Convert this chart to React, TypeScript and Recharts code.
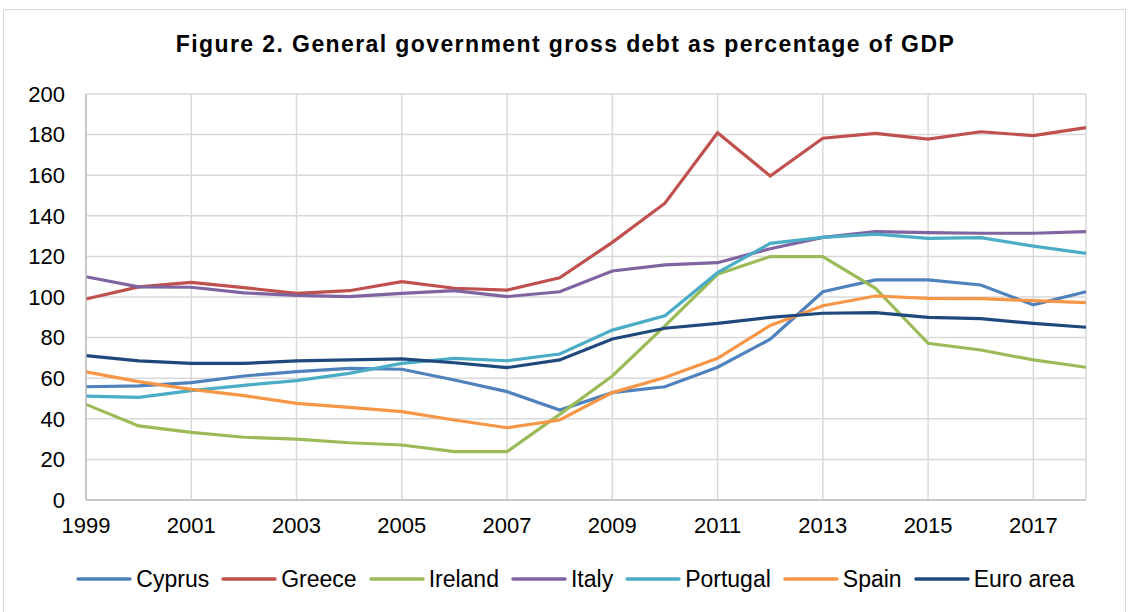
import React from 'react';
import { LineChart, Line, XAxis, YAxis, CartesianGrid } from 'recharts';

const years = [1999, 2000, 2001, 2002, 2003, 2004, 2005, 2006, 2007, 2008, 2009, 2010, 2011, 2012, 2013, 2014, 2015, 2016, 2017, 2018];
const cyprus = [55.8, 56.2, 57.8, 61.1, 63.2, 64.8, 64.4, 59.1, 53.4, 44.3, 52.9, 55.8, 65.4, 79.2, 102.6, 108.4, 108.4, 105.9, 96.1, 102.6];
const greece = [99.0, 105.0, 107.2, 104.6, 101.8, 103.1, 107.6, 104.3, 103.4, 109.5, 126.9, 146.2, 180.9, 159.6, 178.2, 180.6, 177.8, 181.4, 179.5, 183.4];
const ireland = [47.1, 36.5, 33.3, 30.9, 30.0, 28.2, 27.1, 23.8, 23.8, 42.2, 61.1, 85.8, 111.2, 119.9, 119.9, 104.3, 77.2, 73.9, 69.0, 65.4];
const italy = [110.0, 105.0, 104.8, 102.0, 100.8, 100.2, 101.8, 103.1, 100.2, 102.6, 112.8, 115.8, 116.9, 123.8, 129.4, 132.2, 131.7, 131.4, 131.4, 132.2];
const portugal = [51.2, 50.6, 53.9, 56.5, 58.8, 62.4, 67.3, 69.8, 68.6, 71.9, 83.7, 90.8, 112.0, 126.4, 129.4, 131.0, 128.9, 129.2, 125.1, 121.5];
const spain = [63.1, 58.3, 54.5, 51.4, 47.6, 45.6, 43.5, 39.4, 35.6, 39.4, 52.9, 60.3, 69.8, 86.0, 95.7, 100.5, 99.3, 99.2, 98.2, 97.2];
const euroArea = [71.1, 68.5, 67.3, 67.3, 68.5, 69.0, 69.5, 67.6, 65.2, 69.0, 79.3, 84.6, 87.0, 90.0, 92.0, 92.3, 90.0, 89.3, 87.0, 85.1];

const xTicks = [1999, 2001, 2003, 2005, 2007, 2009, 2011, 2013, 2015, 2017];
const yTicks = [0, 20, 40, 60, 80, 100, 120, 140, 160, 180, 200];

const seriesDefs = [
  { key: 'Cyprus', values: cyprus, color: '#4F81BD' },
  { key: 'Greece', values: greece, color: '#C0504D' },
  { key: 'Ireland', values: ireland, color: '#9BBB59' },
  { key: 'Italy', values: italy, color: '#8064A2' },
  { key: 'Portugal', values: portugal, color: '#4BACC6' },
  { key: 'Spain', values: spain, color: '#F79646' },
  { key: 'Euro area', values: euroArea, color: '#1F497D' },
];

const data = years.map((y, i) => {
  const row: Record<string, number> = { year: y };
  seriesDefs.forEach((s) => {
    row[s.key] = s.values[i];
  });
  return row;
});

const FONT = 'Arial, "Liberation Sans", sans-serif';

const LegendBlock = () => (
  <div
    style={{
      position: 'absolute',
      left: 0,
      top: 565,
      width: 1131,
      display: 'flex',
      justifyContent: 'center',
      alignItems: 'center',
      fontFamily: FONT,
      fontSize: 23,
      lineHeight: '28px',
      color: '#000',
      paddingLeft: 32,
      boxSizing: 'border-box',
    }}
  >
    {seriesDefs.map((s) => (
      <div key={s.key} style={{ display: 'flex', alignItems: 'center', marginRight: 12 }}>
        <svg width={56} height={10} style={{ marginRight: 4 }}>
          <line x1={2} y1={5} x2={54} y2={5} stroke={s.color} strokeWidth={3.5} strokeLinecap="round" />
        </svg>
        <span>{s.key}</span>
      </div>
    ))}
  </div>
);

export default function App() {
  return (
    <div style={{ position: 'absolute', left: 0, top: 0, width: 1131, height: 612, background: '#fff', overflow: 'hidden' }}>
      <div style={{ position: 'absolute', left: 3, top: 9, width: 1123, height: 640, border: '1px solid #D9D9D9', boxSizing: 'border-box' }} />
      <div
        style={{
          position: 'absolute',
          left: 0,
          top: 31,
          width: 1131,
          textAlign: 'center',
          fontFamily: FONT,
          fontWeight: 'bold',
          fontSize: 23,
          letterSpacing: 1.4,
          color: '#000',
        }}
      >
        Figure 2. General government gross debt as percentage of GDP
      </div>
      <div style={{ position: 'absolute', left: 0, top: 0 }}>
        <LineChart width={1131} height={612} data={data} margin={{ top: 94, right: 45, bottom: 72, left: 0 }}>
          <CartesianGrid stroke="#D9D9D9" strokeWidth={1.5} vertical={true} horizontal={true} />
          <XAxis
            dataKey="year"
            type="number"
            domain={[1999, 2018]}
            ticks={xTicks}
            interval={0}
            tickLine={false}
            axisLine={{ stroke: '#BFBFBF', strokeWidth: 1.5 }}
            tick={{ fill: '#000', fontSize: 22, fontFamily: FONT }}
            tickMargin={11}
            height={40}
          />
          <YAxis
            domain={[0, 200]}
            ticks={yTicks}
            interval={0}
            tickLine={false}
            axisLine={{ stroke: '#BFBFBF', strokeWidth: 1.5 }}
            tick={{ fill: '#000', fontSize: 22, fontFamily: FONT }}
            tickMargin={15}
            width={86}
          />
          {seriesDefs.map((s) => (
            <Line
              key={s.key}
              type="linear"
              dataKey={s.key}
              stroke={s.color}
              strokeWidth={3.2}
              dot={false}
              activeDot={false}
              isAnimationActive={false}
            />
          ))}
        </LineChart>
      </div>
      <LegendBlock />
    </div>
  );
}
